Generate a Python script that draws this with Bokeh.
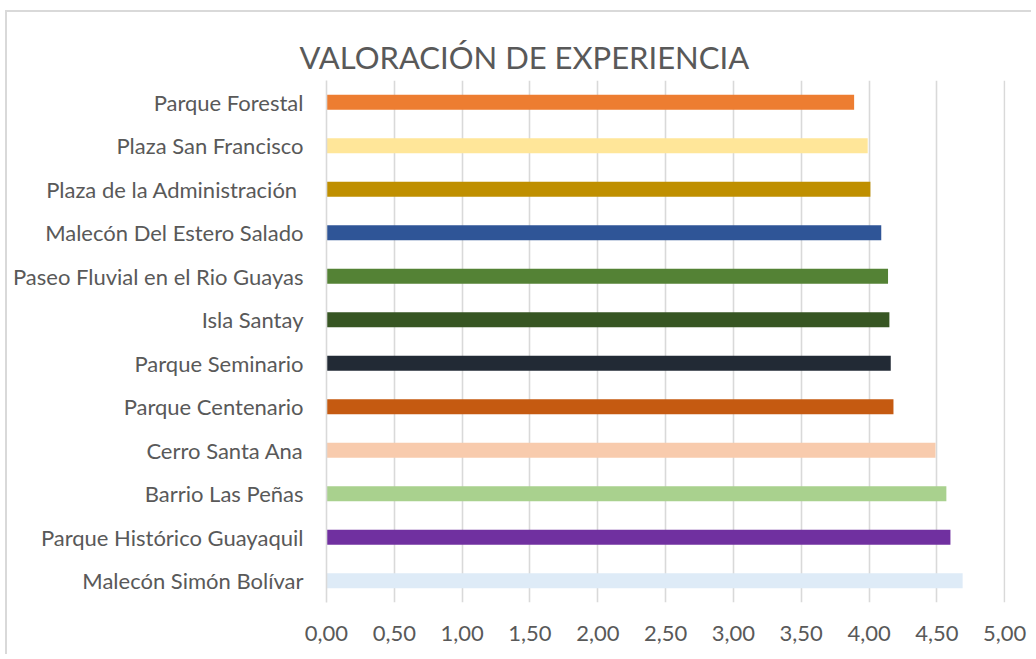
from bokeh.plotting import figure
from bokeh.models import ColumnDataSource, FactorRange, Range1d, FixedTicker, Title
from bokeh.embed import file_html
from bokeh.resources import INLINE

# Data (top to bottom as shown in the chart)
places = [
    "Parque Forestal",
    "Plaza San Francisco",
    "Plaza de la Administración ",
    "Malecón Del Estero Salado",
    "Paseo Fluvial en el Rio Guayas",
    "Isla Santay",
    "Parque Seminario",
    "Parque Centenario",
    "Cerro Santa Ana",
    "Barrio Las Peñas",
    "Parque Histórico Guayaquil",
    "Malecón Simón Bolívar",
]
scores = [3.89, 3.99, 4.01, 4.09, 4.14, 4.15, 4.16, 4.18, 4.49, 4.57, 4.60, 4.69]
colors = [
    "#ED7D31", "#FFE699", "#BF8F00", "#2F5597", "#548235", "#375623",
    "#222A35", "#C55A11", "#F8CBAD", "#A9D18E", "#7030A0", "#DEEBF7",
]
tick_values = [0, 0.5, 1.0, 1.5, 2.0, 2.5, 3.0, 3.5, 4.0, 4.5, 5.0]
tick_labels = ["0,00", "0,50", "1,00", "1,50", "2,00", "2,50", "3,00", "3,50", "4,00", "4,50", "5,00"]
title_text = "VALORACIÓN DE EXPERIENCIA"

source = ColumnDataSource(dict(place=places, score=scores, color=colors))

p = figure(
    width=1026, height=644,
    y_range=FactorRange(factors=places[::-1], range_padding=0),
    x_range=Range1d(0, 5.006),
    output_backend="svg", toolbar_location=None,
    min_border_left=319, min_border_right=28, min_border_top=68, min_border_bottom=54,
)
p.styles = {"border-top": "2px solid #d9d9d9", "border-left": "2px solid #d9d9d9",
            "margin-left": "5px", "margin-top": "10px"}

p.title = Title(text=title_text, align="left", text_font="Lato", text_font_size="31px",
                text_color="#595959", text_font_style="normal", offset=-27, standoff=9)

p.hbar(y="place", right="score", left=0, height=0.345, color="color", line_color=None, source=source)

p.outline_line_color = None
p.background_fill_color = "white"
p.border_fill_color = "white"

p.ygrid.grid_line_color = None
p.xgrid.grid_line_color = "#d9d9d9"
p.xgrid.grid_line_width = 1.6
p.xaxis.ticker = FixedTicker(ticks=tick_values)
p.xaxis.major_label_overrides = {v: l for v, l in zip(tick_values, tick_labels)}
p.xaxis.axis_line_color = None
p.xaxis.major_tick_line_color = None
p.xaxis.minor_tick_line_color = None
p.xaxis.major_label_text_font = "Lato"
p.xaxis.major_label_text_font_size = "22px"
p.xaxis.major_label_text_color = "#595959"
p.xaxis.major_label_standoff = 17

p.yaxis.axis_line_color = "#d9d9d9"
p.yaxis.axis_line_width = 1.6
p.yaxis.major_tick_line_color = None
p.yaxis.minor_tick_line_color = None
p.yaxis.major_label_text_font = "Lato"
p.yaxis.major_label_text_font_size = "22px"
p.yaxis.major_label_text_color = "#595959"
p.yaxis.major_label_standoff = 17

open("out.html", "w").write(file_html(p, INLINE))
